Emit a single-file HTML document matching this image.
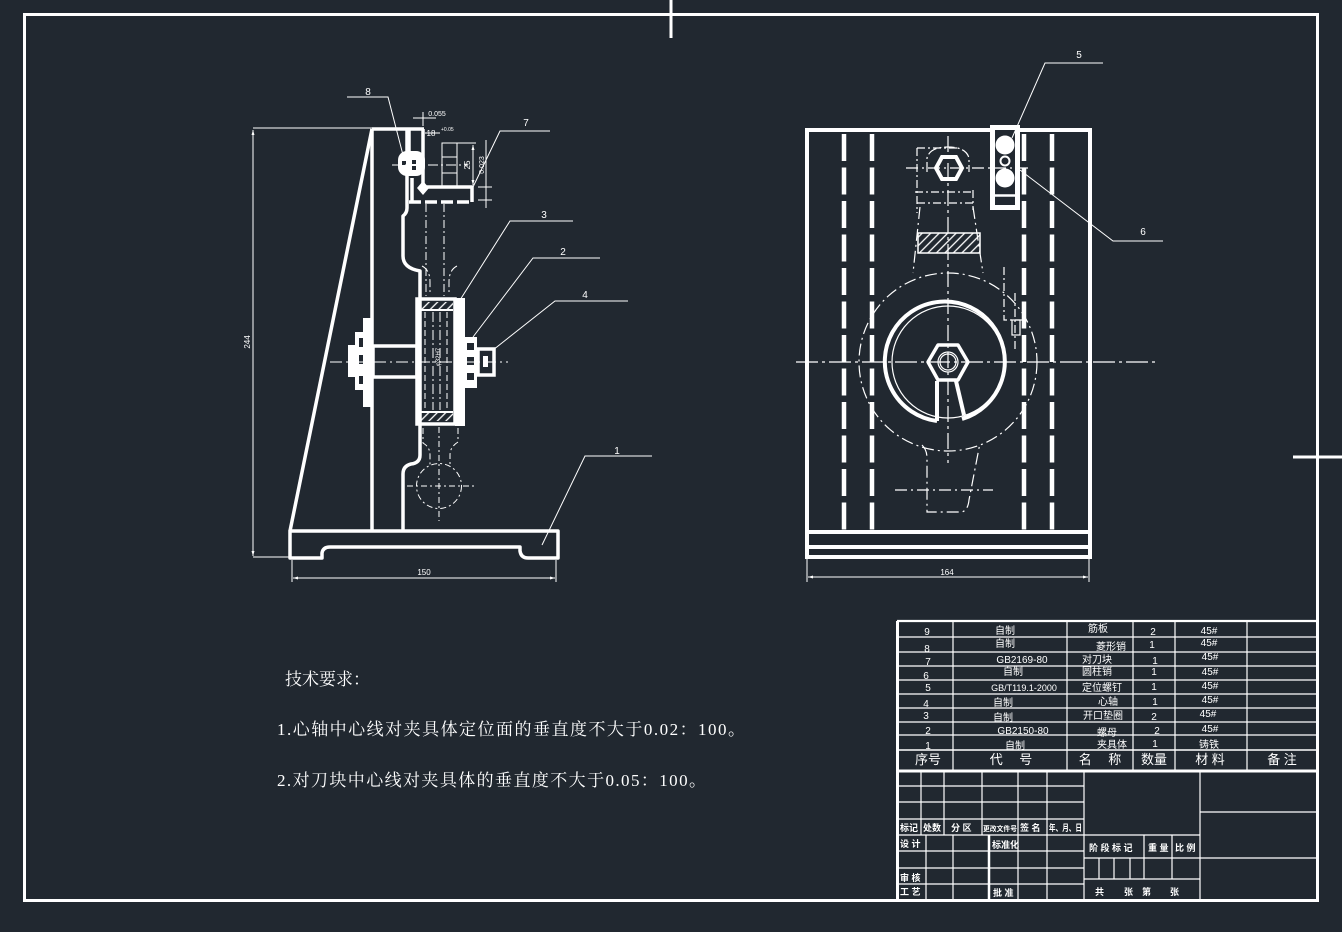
<!DOCTYPE html>
<html><head><meta charset="utf-8">
<style>
html,body{margin:0;padding:0;background:#212830;}
svg{display:block}
</style></head><body>
<svg width="1342" height="932" viewBox="0 0 1342 932" xmlns="http://www.w3.org/2000/svg">
<defs>
<pattern id="h" patternUnits="userSpaceOnUse" width="6" height="6" patternTransform="rotate(45)">
<line x1="1" y1="0" x2="1" y2="6" stroke="#fff" stroke-width="1.3"/>
</pattern>
<marker id="ar" viewBox="0 0 10 10" refX="10" refY="5" markerWidth="5" markerHeight="5" orient="auto-start-reverse">
<path d="M0,2 L10,5 L0,8 Z" fill="#fff"/>
</marker>
</defs>
<rect width="1342" height="932" fill="#212830"/>

<!-- border -->
<g stroke="#fff" fill="none" stroke-width="3">
<rect x="24.5" y="14.5" width="1293" height="886"/>
<line x1="671" y1="0" x2="671" y2="38"/>
<line x1="1293" y1="457" x2="1342" y2="457"/>
</g>

<!-- ================= LEFT VIEW ================= -->
<g stroke="#fff" fill="none" stroke-width="1">
<line x1="253" y1="128" x2="372" y2="128"/>
<line x1="253" y1="557" x2="290" y2="557"/>
<line x1="253" y1="130" x2="253" y2="556" marker-start="url(#ar)" marker-end="url(#ar)"/>
<line x1="292" y1="560" x2="292" y2="582"/>
<line x1="556" y1="560" x2="556" y2="582"/>
<line x1="293" y1="578" x2="555" y2="578" marker-start="url(#ar)" marker-end="url(#ar)"/>
</g>
<g fill="#fff" font-family="Liberation Sans, sans-serif" font-size="8">
<text x="424" y="575" text-anchor="middle">150</text>
<text transform="translate(250,342) rotate(-90)" text-anchor="middle">244</text>
</g>

<g stroke="#fff" fill="none" stroke-width="3.5" stroke-linejoin="round">
<line x1="290" y1="531" x2="372" y2="129"/>
<line x1="372" y1="129" x2="372" y2="531"/>
<line x1="372" y1="129" x2="424" y2="129"/>
<path d="M290,531 H558 V558 H528 Q521,558 520,551 V547 H330 Q323,547 322,553 V558 H290 Z"/>
<path d="M407,129 V208 Q407,213 403,216 V256 Q403,268 420,271 V455 Q420,463 411,464 Q403,466 403,474 V531"/>
<path d="M423,129 V176"/>
<path d="M409,129 V151"/>
<path d="M423,176 V187 H472 V202"/>
<path d="M412,178 V202"/>
<line x1="409" y1="202" x2="472" y2="202" stroke-dasharray="12 4"/>
</g>
<rect x="398" y="151" width="27" height="25" rx="9" fill="#fff"/>
<rect x="402" y="161" width="4" height="4" fill="#212830"/>
<rect x="412" y="160" width="4" height="4" fill="#212830"/>
<rect x="412" y="166" width="4" height="4" fill="#212830"/>
<polygon points="423,181 429,188 423,195 417,188" fill="#fff"/>

<g stroke="#fff" fill="none" stroke-width="1">
<rect x="442" y="143" width="15" height="44"/>
<line x1="442" y1="157" x2="457" y2="157"/>
<line x1="442" y1="173" x2="457" y2="173"/>
<line x1="457" y1="143" x2="476" y2="143"/>
<line x1="473" y1="145" x2="473" y2="185" marker-start="url(#ar)" marker-end="url(#ar)"/>
<line x1="486" y1="140" x2="486" y2="208"/>
<line x1="478" y1="187" x2="492" y2="187"/>
<line x1="478" y1="200" x2="492" y2="200"/>
<line x1="423" y1="112" x2="423" y2="126"/>
<line x1="413" y1="118" x2="436" y2="118"/>
<line x1="425" y1="133" x2="440" y2="133"/>
<line x1="392" y1="165" x2="468" y2="165" stroke-dasharray="10 3 2 3"/>
</g>
<g fill="#fff" font-family="Liberation Sans, sans-serif">
<text x="437" y="116" font-size="7" text-anchor="middle">0.055</text>
<text x="431" y="136" font-size="8" text-anchor="middle">18</text>
<text x="441" y="131" font-size="5">+0.05</text>
<text transform="translate(470,165) rotate(-90)" font-size="8" text-anchor="middle">25</text>
<text transform="translate(484,165) rotate(-90)" font-size="7" text-anchor="middle">0.023</text>
</g>

<g stroke="#fff" fill="none" stroke-width="1" stroke-dasharray="8 3 2 3">
<line x1="426" y1="204" x2="426" y2="296"/>
<line x1="444" y1="204" x2="444" y2="296"/>
<path d="M422,266 Q430,270 430,282 V292"/>
<path d="M457,266 Q449,270 449,282 V292"/>
</g>

<rect x="363" y="318" width="10" height="89" fill="#fff"/>
<rect x="355" y="332" width="9" height="58" fill="#fff"/>
<rect x="348" y="345" width="8" height="32" fill="#fff"/>
<rect x="359" y="338" width="4" height="9" fill="#212830"/>
<rect x="359" y="355" width="4" height="9" fill="#212830"/>
<rect x="359" y="376" width="4" height="8" fill="#212830"/>
<g stroke="#fff" fill="none" stroke-width="3.5">
<rect x="373" y="346" width="44" height="31"/>
<rect x="417" y="299" width="38" height="125"/>
<rect x="478" y="349" width="16" height="26"/>
</g>
<rect x="419" y="302" width="34" height="8" fill="url(#h)"/>
<rect x="419" y="413" width="34" height="8" fill="url(#h)"/>
<line x1="419" y1="310" x2="453" y2="310" stroke="#fff" stroke-width="2"/>
<line x1="419" y1="412" x2="453" y2="412" stroke="#fff" stroke-width="2"/>
<rect x="455" y="298" width="10" height="128" fill="#fff"/>
<rect x="465" y="337" width="12" height="51" fill="#fff"/>
<rect x="467" y="343" width="7" height="7" fill="#212830"/>
<rect x="467" y="357" width="7" height="8" fill="#212830"/>
<rect x="467" y="373" width="7" height="7" fill="#212830"/>
<rect x="483" y="356" width="5" height="11" fill="#fff"/>
<g stroke="#fff" fill="none" stroke-width="1">
<line x1="425" y1="312" x2="425" y2="410" stroke-dasharray="6 3"/>
<line x1="433" y1="312" x2="433" y2="410" stroke-dasharray="10 3 2 3"/>
<line x1="440" y1="312" x2="440" y2="410" stroke-dasharray="10 3 2 3"/>
<line x1="447" y1="312" x2="447" y2="410" stroke-dasharray="6 3"/>
<line x1="330" y1="362" x2="508" y2="362" stroke-dasharray="12 4 2 4"/>
</g>
<text transform="translate(440,357) rotate(-90)" fill="#fff" font-size="6" font-family="Liberation Sans, sans-serif" text-anchor="middle">φ32H7</text>

<g stroke="#fff" fill="none" stroke-width="1" stroke-dasharray="6 3 2 3">
<path d="M423,428 V443 Q430,447 430,455 V466"/>
<path d="M458,428 V442 Q450,447 450,455 V466"/>
<circle cx="439" cy="486" r="22.5"/>
<line x1="439" y1="427" x2="439" y2="521"/>
<line x1="407" y1="486" x2="477" y2="486"/>
</g>

<g stroke="#fff" fill="none" stroke-width="1">
<polyline points="347,97 388,97 403,155"/>
<polyline points="550,131 500,131 473,187"/>
<polyline points="573,221 510,221 460,300"/>
<polyline points="600,258 533,258 473,337"/>
<polyline points="628,301 555,301 493,350"/>
<polyline points="652,456 585,456 542,545"/>
</g>
<g fill="#fff" font-family="Liberation Sans, sans-serif" font-size="10" text-anchor="middle">
<text x="368" y="95">8</text>
<text x="526" y="126">7</text>
<text x="544" y="218">3</text>
<text x="563" y="255">2</text>
<text x="585" y="298">4</text>
<text x="617" y="454">1</text>
</g>

<!-- ================= RIGHT VIEW ================= -->
<g stroke="#fff" fill="none" stroke-width="4">
<rect x="807" y="130" width="283" height="427"/>
<line x1="807" y1="532" x2="1090" y2="532"/>
<line x1="807" y1="547" x2="1090" y2="547"/>
</g>
<g stroke="#fff" stroke-width="4.5" stroke-dasharray="27 6.5">
<line x1="844" y1="134" x2="844" y2="530"/>
<line x1="872" y1="134" x2="872" y2="530"/>
<line x1="1024" y1="134" x2="1024" y2="530"/>
<line x1="1052" y1="134" x2="1052" y2="530"/>
</g>
<rect x="992.5" y="127.5" width="25" height="80" fill="#212830" stroke="#fff" stroke-width="5"/>
<line x1="995" y1="195.5" x2="1015" y2="195.5" stroke="#fff" stroke-width="2.5"/>
<circle cx="1005" cy="145" r="9.5" fill="#fff"/>
<circle cx="1005" cy="161" r="4.5" fill="none" stroke="#fff" stroke-width="2"/>
<circle cx="1005" cy="178" r="9.5" fill="#fff"/>

<g stroke="#fff" fill="none" stroke-width="1.2">
<circle cx="948" cy="362" r="89" stroke-dasharray="12 4 2 4"/>
<path d="M920,207 L913,273" stroke-dasharray="12 4 2 4"/>
<path d="M973,207 L983,273" stroke-dasharray="12 4 2 4"/>
<path d="M927,172 V158 Q930,147 948,147 Q966,147 969,158 V172" stroke-dasharray="10 3 2 3"/>
<path d="M917,148 H960 M917,148 V213 M915,192 H973 M917,203 H975 M973,190 V210" stroke-dasharray="8 3 2 3"/>
<rect x="918" y="233" width="62" height="20" fill="url(#h)" stroke-width="1.5"/>
<line x1="948" y1="136" x2="948" y2="463" stroke-dasharray="16 4 3 4"/>
<line x1="796" y1="362" x2="1157" y2="362" stroke-dasharray="22 4 3 4"/>
<line x1="906" y1="168" x2="1030" y2="168" stroke-dasharray="12 4 2 4"/>
<path d="M922,445 Q927,450 927,458 V512 H962 Q968,510 969,500 L980,443" stroke-dasharray="12 4 2 4"/>
<line x1="895" y1="490" x2="993" y2="490" stroke-dasharray="12 4 2 4"/>
<path d="M1004,267 V320 H1027" stroke-dasharray="8 3 2 3"/>
<line x1="1015" y1="293" x2="1015" y2="350" stroke-dasharray="8 3 2 3"/>
<rect x="1012" y="320" width="8" height="15"/>
<circle cx="948" cy="362" r="56"/>
<circle cx="948" cy="362" r="10"/>
<circle cx="948" cy="362" r="8"/>
</g>
<polygon points="936,168 942,157 956,157 962,168 956,179 942,179" fill="none" stroke="#fff" stroke-width="4"/>
<g stroke="#fff" fill="none" stroke-width="4" stroke-linejoin="round">
<path d="M937,421 A60,60 0 1 1 962,419"/>
<path d="M937,421 V381"/>
<path d="M956,381 L964,415"/>
<polygon points="928,362 938,345 958,345 968,362 958,380 938,380" stroke-width="3.5"/>
</g>

<g stroke="#fff" fill="none" stroke-width="1">
<line x1="807" y1="559" x2="807" y2="582"/>
<line x1="1089" y1="559" x2="1089" y2="582"/>
<line x1="808" y1="577" x2="1088" y2="577" marker-start="url(#ar)" marker-end="url(#ar)"/>
<polyline points="1103,63 1045,63 1012,138"/>
<polyline points="1163,241 1113,241 1020,170"/>
</g>
<g fill="#fff" font-family="Liberation Sans, sans-serif" text-anchor="middle">
<text x="947" y="575" font-size="8">164</text>
<text x="1079" y="58" font-size="10">5</text>
<text x="1143" y="235" font-size="10">6</text>
</g>

<!-- ================= TECH TEXT ================= -->
<g fill="#fff" font-family="Liberation Serif, Noto Serif CJK SC, serif" font-size="17">
<text x="285" y="685">技术要求：</text>
<text x="277" y="735" textLength="468">1.心轴中心线对夹具体定位面的垂直度不大于0.02：100。</text>
<text x="277" y="786" textLength="429">2.对刀块中心线对夹具体的垂直度不大于0.05：100。</text>
</g>

<!-- ================= BOM TABLE ================= -->
<g stroke="#fff" fill="none" stroke-width="1.2">
<line x1="898" y1="637" x2="1317" y2="637"/>
<line x1="898" y1="652" x2="1317" y2="652"/>
<line x1="898" y1="666" x2="1317" y2="666"/>
<line x1="898" y1="680" x2="1317" y2="680"/>
<line x1="898" y1="694" x2="1317" y2="694"/>
<line x1="898" y1="708" x2="1317" y2="708"/>
<line x1="898" y1="722" x2="1317" y2="722"/>
<line x1="898" y1="735" x2="1317" y2="735"/>
<line x1="898" y1="750" x2="1317" y2="750" stroke-width="1.6"/>
<line x1="953" y1="621" x2="953" y2="770"/>
<line x1="1067" y1="621" x2="1067" y2="770"/>
<line x1="1133" y1="621" x2="1133" y2="770"/>
<line x1="1175" y1="621" x2="1175" y2="770"/>
<line x1="1247" y1="621" x2="1247" y2="770"/>
</g>
<g stroke="#fff" fill="none" stroke-width="2.2">
<line x1="897" y1="621" x2="1317" y2="621"/>
<line x1="897" y1="771" x2="1317" y2="771" stroke-width="3"/>
<line x1="897.5" y1="621" x2="897.5" y2="900" stroke-width="3"/>
</g>
<g fill="#fff" font-family="Liberation Sans, Noto Sans CJK SC, sans-serif" font-size="10" text-anchor="middle">
<text x="927" y="635">9</text><text x="1005" y="634">自制</text><text x="1098" y="632">筋板</text><text x="1153" y="635">2</text><text x="1209" y="634">45#</text>
<text x="927" y="652">8</text><text x="1005" y="647">自制</text><text x="1111" y="650">菱形销</text><text x="1152" y="648">1</text><text x="1209" y="646">45#</text>
<text x="928" y="665">7</text><text x="1022" y="663">GB2169-80</text><text x="1097" y="663">对刀块</text><text x="1155" y="664">1</text><text x="1210" y="660">45#</text>
<text x="926" y="679">6</text><text x="1013" y="675">自制</text><text x="1097" y="675">圆柱销</text><text x="1154" y="675">1</text><text x="1210" y="675">45#</text>
<text x="928" y="691">5</text><text x="1024" y="691" font-size="9">GB/T119.1-2000</text><text x="1102" y="691">定位螺钉</text><text x="1154" y="690">1</text><text x="1210" y="689">45#</text>
<text x="926" y="707">4</text><text x="1003" y="706">自制</text><text x="1108" y="705">心轴</text><text x="1155" y="705">1</text><text x="1210" y="703">45#</text>
<text x="926" y="719">3</text><text x="1003" y="721">自制</text><text x="1103" y="719">开口垫圈</text><text x="1154" y="720">2</text><text x="1208" y="717">45#</text>
<text x="928" y="734">2</text><text x="1023" y="734">GB2150-80</text><text x="1107" y="736">螺母</text><text x="1157" y="734">2</text><text x="1210" y="732">45#</text>
<text x="928" y="749">1</text><text x="1015" y="749">自制</text><text x="1112" y="748">夹具体</text><text x="1155" y="747">1</text><text x="1209" y="748">铸铁</text>
</g>
<g fill="#fff" font-family="Liberation Sans, Noto Sans CJK SC, sans-serif" font-size="13" text-anchor="middle">
<text x="928" y="764">序号</text>
<text x="1011" y="764">代　 号</text>
<text x="1100" y="764">名　 称</text>
<text x="1154" y="764">数量</text>
<text x="1210" y="764">材 料</text>
<text x="1282" y="764">备 注</text>
</g>

<!-- ================= TITLE BLOCK ================= -->
<g stroke="#fff" fill="none" stroke-width="1.2">
<line x1="898" y1="786" x2="1084" y2="786"/>
<line x1="898" y1="802" x2="1084" y2="802"/>
<line x1="898" y1="819" x2="1084" y2="819"/>
<line x1="898" y1="835" x2="1200" y2="835"/>
<line x1="898" y1="851" x2="1084" y2="851"/>
<line x1="898" y1="868" x2="1084" y2="868"/>
<line x1="898" y1="884" x2="1084" y2="884"/>
<line x1="921" y1="771" x2="921" y2="835"/>
<line x1="944" y1="771" x2="944" y2="835"/>
<line x1="982" y1="771" x2="982" y2="835"/>
<line x1="1018" y1="771" x2="1018" y2="899"/>
<line x1="1047" y1="771" x2="1047" y2="899"/>
<line x1="926" y1="835" x2="926" y2="899"/>
<line x1="953" y1="835" x2="953" y2="899"/>
<line x1="1084" y1="771" x2="1084" y2="899"/>
<line x1="1200" y1="771" x2="1200" y2="899"/>
<line x1="1084" y1="858" x2="1317" y2="858"/>
<line x1="1084" y1="879" x2="1200" y2="879"/>
<line x1="1200" y1="812" x2="1317" y2="812"/>
<line x1="1144" y1="835" x2="1144" y2="879"/>
<line x1="1172" y1="835" x2="1172" y2="879"/>
<line x1="1099" y1="858" x2="1099" y2="879"/>
<line x1="1114" y1="858" x2="1114" y2="879"/>
<line x1="1130" y1="858" x2="1130" y2="879"/>
</g>
<line x1="989" y1="835" x2="989" y2="899" stroke="#fff" stroke-width="2.5"/>
<g fill="#fff" font-family="Liberation Sans, Noto Sans CJK SC, sans-serif" font-size="9" font-weight="bold">
<text x="900" y="831">标记</text>
<text x="923" y="831">处数</text>
<text x="951" y="831">分 区</text>
<text x="983" y="831" font-size="7" textLength="34" lengthAdjust="spacingAndGlyphs">更改文件号</text>
<text x="1020" y="831">签 名</text>
<text x="1049" y="831" textLength="33" lengthAdjust="spacingAndGlyphs">年、月、日</text>
<text x="900" y="847">设 计</text>
<text x="992" y="848">标准化</text>
<text x="900" y="881">审 核</text>
<text x="900" y="895">工 艺</text>
<text x="993" y="896">批 准</text>
<text x="1089" y="851">阶 段 标 记</text>
<text x="1148" y="851">重 量</text>
<text x="1175" y="851">比 例</text>
<text x="1095" y="895">共</text>
<text x="1124" y="895">张</text>
<text x="1142" y="895">第</text>
<text x="1170" y="895">张</text>
</g>
</svg>
</body></html>
